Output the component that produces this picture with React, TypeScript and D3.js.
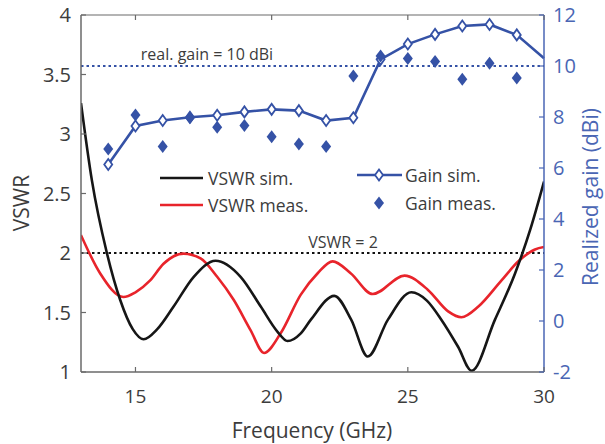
import React from 'react';
import * as d3 from 'd3';

// frequencies (GHz) where the gain was sampled
const gainFreqs = [14, 15, 16, 17, 18, 19, 20, 21, 22, 23, 24, 25, 26, 27, 28, 29, 30];
const gainSim = [6.14, 7.65, 7.86, 7.99, 8.07, 8.2, 8.3, 8.25, 7.86, 7.97, 10.26, 10.86, 11.24, 11.57, 11.63, 11.22, 10.3];
const measFreqs = [14, 15, 16, 17, 18, 19, 20, 21, 22, 23, 24, 25, 26, 27, 28, 29];
const gainMeas = [6.75, 8.08, 6.84, 7.97, 7.6, 7.67, 7.23, 6.94, 6.84, 9.61, 10.39, 10.29, 10.18, 9.48, 10.11, 9.53];

// VSWR curves (freq, value)
const simFreqs = [13, 13.4, 13.95, 14.44, 14.9, 15.3, 15.8, 16.4, 17.14, 17.94, 18.86, 19.6, 20.21, 20.58, 21.07, 21.44, 22.3, 22.92, 23.53, 24.27, 25.13, 25.7, 26.23, 26.85, 27.34, 28.2, 28.94, 29.5, 30];
const vswrSim = [3.26, 2.61, 2.0, 1.605, 1.36, 1.275, 1.36, 1.55, 1.8, 1.935, 1.8, 1.55, 1.34, 1.26, 1.325, 1.44, 1.64, 1.44, 1.13, 1.44, 1.67, 1.6, 1.44, 1.21, 1.01, 1.44, 1.83, 2.2, 2.6];
const measVFreqs = [13, 13.7, 14.56, 15, 15.54, 16.03, 16.77, 17.39, 18, 18.61, 19.23, 19.72, 20.33, 21.07, 21.69, 22.24, 22.9, 23.71, 24.88, 25.74, 26.48, 26.97, 27.59, 28.44, 29.06, 29.67, 30];
const vswrMeas = [2.15, 1.83, 1.63, 1.67, 1.77, 1.91, 1.995, 1.955, 1.8, 1.605, 1.35, 1.16, 1.325, 1.65, 1.83, 1.93, 1.83, 1.655, 1.81, 1.69, 1.51, 1.46, 1.55, 1.77, 1.93, 2.03, 2.05];

const xTicks = [15, 20, 25, 30];
const vswrTicks = [1, 1.5, 2, 2.5, 3, 3.5, 4];
const gainTicks = [-2, 0, 2, 4, 6, 8, 10, 12];

const W = 605;
const H = 444;
const m = { left: 81, right: 544, top: 15, bottom: 372 };
const font = "'Open Sans', 'Noto Sans', sans-serif";
const blue = '#3552a6';
const axisBlue = '#4a66b4';
const grey = '#6a6a6a';
const txt = '#3c3c3c';

const diamond = (cx: number, cy: number, w: number, h: number) =>
  `M${cx},${cy - h / 2}L${cx + w / 2},${cy}L${cx},${cy + h / 2}L${cx - w / 2},${cy}Z`;

export default function App() {
  const x = d3.scaleLinear().domain([13, 30]).range([m.left, m.right]);
  const yL = d3.scaleLinear().domain([1, 4]).range([m.bottom, m.top]);
  const yR = d3.scaleLinear().domain([-2, 12]).range([m.bottom, m.top]);

  const vLine = d3
    .line<[number, number]>()
    .x((d) => x(d[0]))
    .y((d) => yL(d[1]))
    .curve(d3.curveMonotoneX);
  const gLine = d3
    .line<[number, number]>()
    .x((d) => x(d[0]))
    .y((d) => yR(d[1]));

  const simPts = simFreqs.map((f, i) => [f, vswrSim[i]] as [number, number]);
  const measPts = measVFreqs.map((f, i) => [f, vswrMeas[i]] as [number, number]);
  const gSimPts = gainFreqs.map((f, i) => [f, gainSim[i]] as [number, number]);

  return (
    <svg width={W} height={H} style={{ position: 'absolute', left: 0, top: 0, background: '#fff' }} fontFamily={font}>
      <defs>
        <clipPath id="plot">
          <rect x={m.left} y={m.top} width={m.right - m.left} height={m.bottom - m.top} />
        </clipPath>
      </defs>

      {/* reference lines */}
      <line x1={m.left} x2={m.right} y1={yR(10)} y2={yR(10)} stroke={blue} strokeWidth={2} strokeDasharray="2.5 3" />
      <line x1={m.left} x2={m.right} y1={yL(2)} y2={yL(2)} stroke="#111" strokeWidth={2} strokeDasharray="2.5 3" />
      <text x={207} y={60} fontSize={16} fill={txt} textAnchor="middle">real. gain = 10 dBi</text>
      <text x={343} y={248} fontSize={16} fill={txt} textAnchor="middle">VSWR = 2</text>

      {/* VSWR curves */}
      <g clipPath="url(#plot)">
        <path d={vLine(measPts) ?? ''} fill="none" stroke="#e8242b" strokeWidth={2.6} />
        <path d={vLine(simPts) ?? ''} fill="none" stroke="#161616" strokeWidth={2.6} />
      </g>

      {/* gain */}
      <path d={gLine(gSimPts) ?? ''} fill="none" stroke={blue} strokeWidth={2.6} />
      {gSimPts.slice(0, -1).map((d, i) => (
        <path key={'gs' + i} d={diamond(x(d[0]), yR(d[1]), 8, 11)} fill="#fff" stroke={blue} strokeWidth={1.8} />
      ))}
      {measFreqs.map((f, i) => (
        <path key={'gm' + i} d={diamond(x(f), yR(gainMeas[i]), 10, 13)} fill={blue} />
      ))}

      {/* frame */}
      <line x1={m.left} x2={m.right} y1={m.top} y2={m.top} stroke={grey} strokeWidth={1.2} />
      <line x1={m.left} x2={m.right} y1={m.bottom} y2={m.bottom} stroke={grey} strokeWidth={1.5} />
      <line x1={m.left} x2={m.left} y1={m.top} y2={m.bottom} stroke={grey} strokeWidth={1.5} />
      <line x1={m.right} x2={m.right} y1={m.top} y2={m.bottom} stroke={axisBlue} strokeWidth={1.5} />

      {/* x axis */}
      {xTicks.map((t) => (
        <g key={'x' + t}>
          <line x1={x(t)} x2={x(t)} y1={m.bottom} y2={m.bottom - 5} stroke={grey} strokeWidth={1.2} />
          <line x1={x(t)} x2={x(t)} y1={m.top} y2={m.top + 5} stroke={grey} strokeWidth={1.2} />
          <text x={x(t)} y={403} fontSize={19} fill={txt} textAnchor="middle">{t}</text>
        </g>
      ))}
      <text x={312} y={438} fontSize={21} fill={txt} textAnchor="middle">Frequency (GHz)</text>

      {/* left axis */}
      {vswrTicks.map((t) => (
        <g key={'l' + t}>
          <line x1={m.left} x2={m.left + 5} y1={yL(t)} y2={yL(t)} stroke={grey} strokeWidth={1.2} />
          <text x={71} y={yL(t) + 7} fontSize={20} fill={txt} textAnchor="end">{t}</text>
        </g>
      ))}
      <text transform="translate(29,203) rotate(-90)" fontSize={21} fill={txt} textAnchor="middle">VSWR</text>

      {/* right axis */}
      {gainTicks.map((t) => (
        <g key={'r' + t}>
          <line x1={m.right} x2={m.right - 5} y1={yR(t)} y2={yR(t)} stroke={axisBlue} strokeWidth={1.2} />
          <text x={553} y={yR(t) + 7} fontSize={20} fill={axisBlue}>{t}</text>
        </g>
      ))}
      <text transform="translate(598,197) rotate(-90)" fontSize={21} fill={axisBlue} textAnchor="middle">Realized gain (dBi)</text>

      {/* legend */}
      <line x1={160} x2={203} y1={178} y2={178} stroke="#161616" strokeWidth={2.6} />
      <text x={208} y={185} fontSize={17.5} fill={txt}>VSWR sim.</text>
      <line x1={160} x2={203} y1={205} y2={205} stroke="#e8242b" strokeWidth={2.6} />
      <text x={208} y={212} fontSize={17.5} fill={txt}>VSWR meas.</text>
      <line x1={357} x2={402} y1={175} y2={175} stroke={blue} strokeWidth={2.6} />
      <path d={diamond(379, 175, 8, 11)} fill="#fff" stroke={blue} strokeWidth={1.8} />
      <text x={405} y={182} fontSize={17.5} fill={txt}>Gain sim.</text>
      <path d={diamond(379, 203, 10, 13)} fill={blue} />
      <text x={405} y={210} fontSize={17.5} fill={txt}>Gain meas.</text>
    </svg>
  );
}
